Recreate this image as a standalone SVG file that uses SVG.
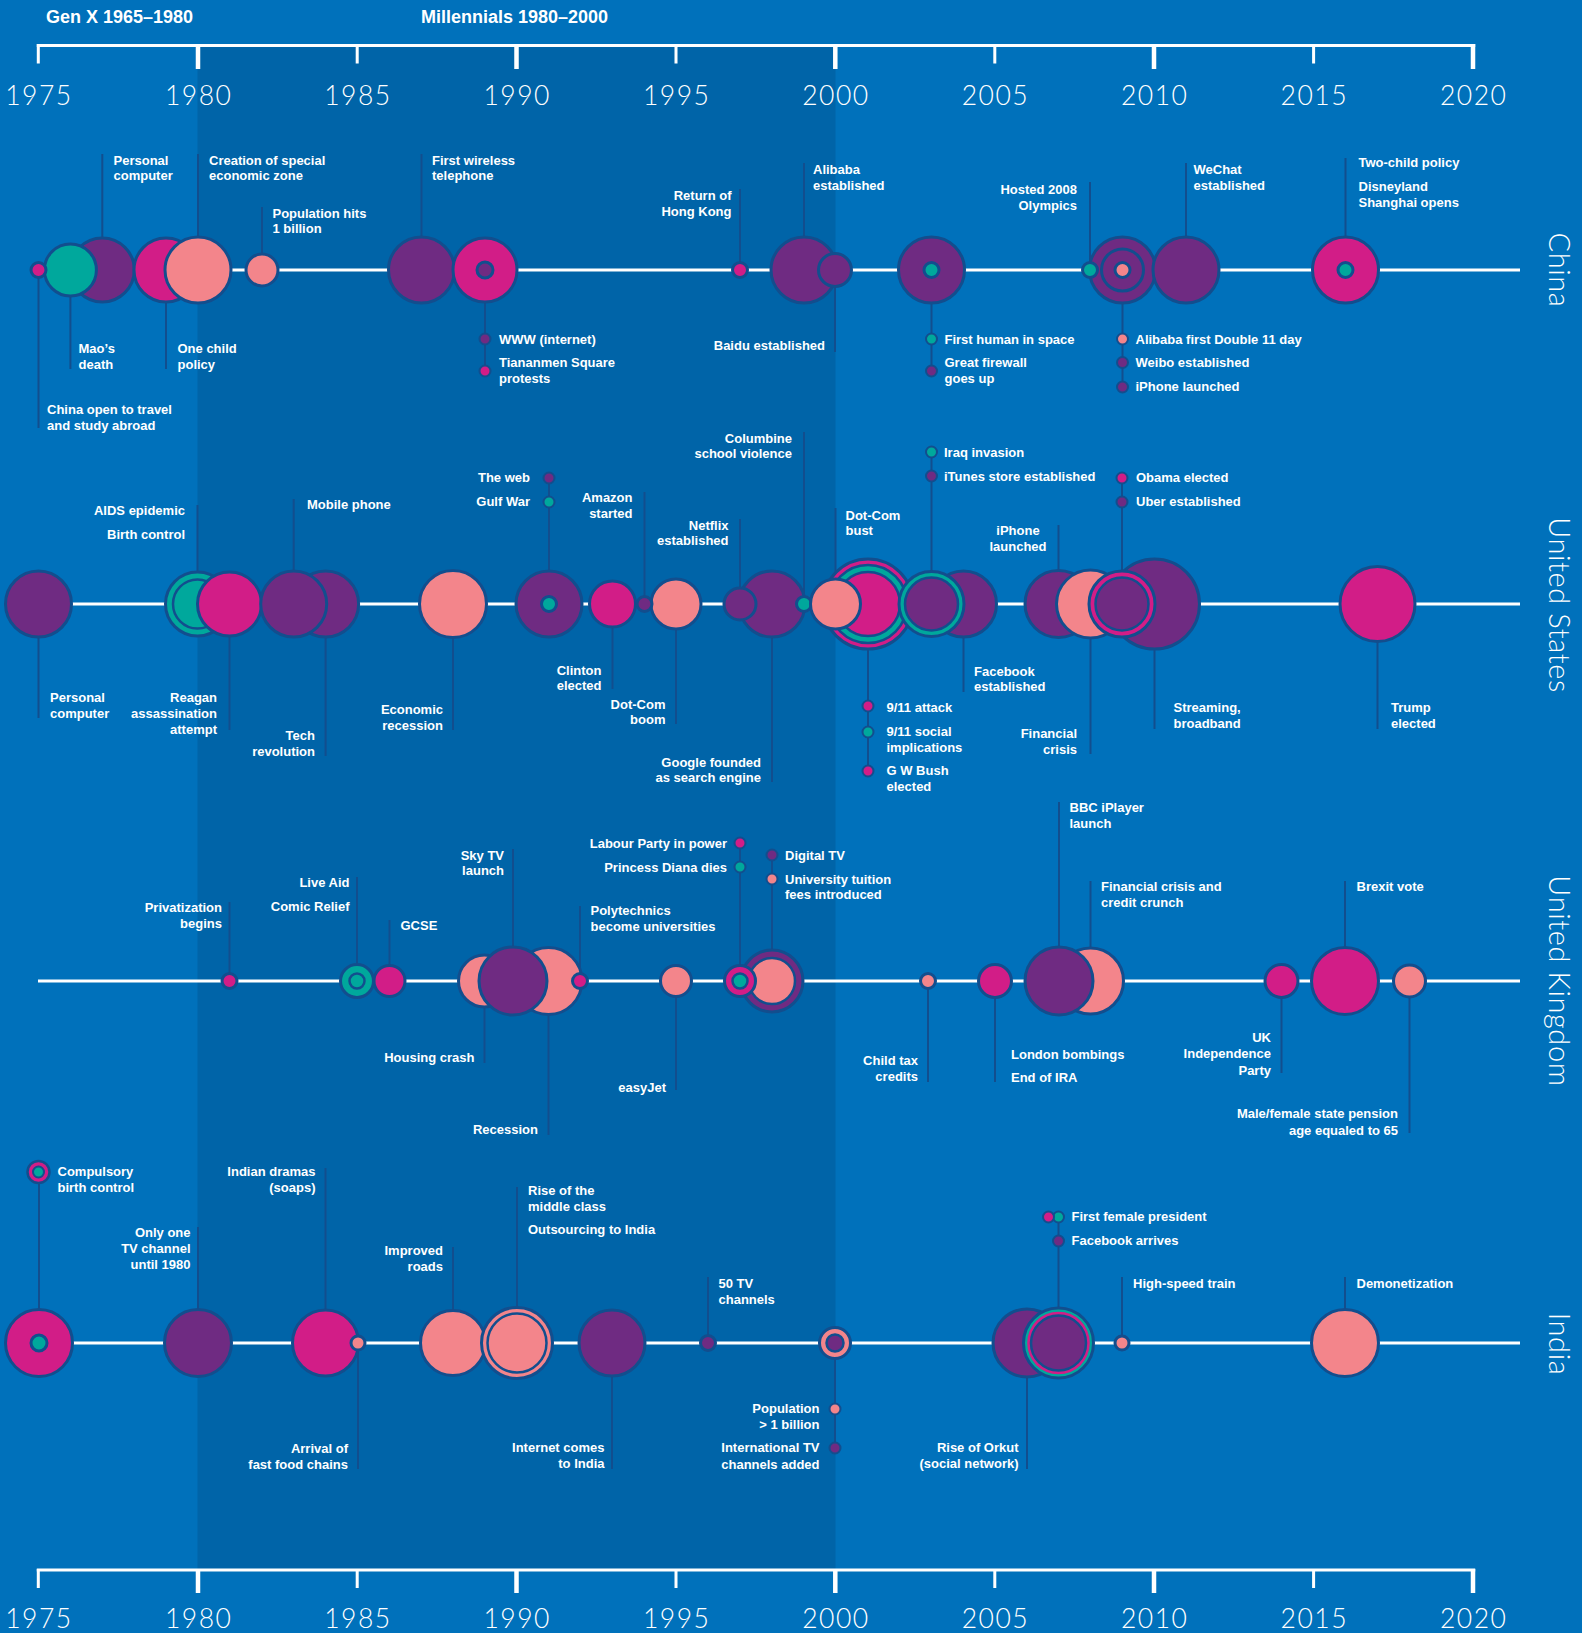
<svg xmlns="http://www.w3.org/2000/svg" width="1582" height="1633" viewBox="0 0 1582 1633">
<style>
.lb{font-family:"Liberation Sans",Arial,sans-serif;font-weight:bold;font-size:13px;fill:#fff}
.r{text-anchor:end}
.mid{text-anchor:middle}
.hd{font-family:"Liberation Sans",Arial,sans-serif;font-weight:bold;font-size:18px;fill:#fff}
.yr{font-family:Lato,"Liberation Sans",sans-serif;font-weight:300;font-size:26.5px;fill:#fff;text-anchor:middle;letter-spacing:1.5px}
.ct{font-family:Lato,"Liberation Sans",sans-serif;font-weight:300;font-size:29px;fill:#fff;text-anchor:middle;letter-spacing:0.6px}
.ax{stroke:#fff;fill:none}
.row{stroke:#fff;stroke-width:3}
.ld{stroke:#124E8E;stroke-width:2;fill:none}
.c{stroke:#124E8E;stroke-width:3}
.d{stroke:#124E8E;stroke-width:2}
.e{stroke:#124E8E;stroke-width:2.5}
.P{fill:#6F2B82}
.M{fill:#D21D87}
.T{fill:#00A89C}
.S{fill:#F3858B}
</style>
<rect width="1582" height="1633" fill="#0071BB"/>
<rect x="197.5" y="45" width="638" height="1525" fill="#0064A8"/>
<g id="headings">
<text class="hd" x="46" y="23">Gen X 1965–1980</text>
<text class="hd" x="421" y="23">Millennials 1980–2000</text>
</g>
<g id="axis-top">
<path class="ax" stroke-width="3" d="M36.8 45.5H1475.2"/>
<path class="ax" stroke-width="4.5" d="M198 44V69M516.5 44V69M835.3 44V69M1154 44V69M1473 44V69"/>
<path class="ax" stroke-width="3" d="M38.3 44V63.5M357.2 44V63.5M676 44V63.5M994.8 44V63.5M1313.6 44V63.5"/>
<text class="yr" x="39" y="105">1975</text><text class="yr" x="198.7" y="105">1980</text><text class="yr" x="357.9" y="105">1985</text><text class="yr" x="517.2" y="105">1990</text><text class="yr" x="676.7" y="105">1995</text><text class="yr" x="836" y="105">2000</text><text class="yr" x="995.5" y="105">2005</text><text class="yr" x="1154.7" y="105">2010</text><text class="yr" x="1314.3" y="105">2015</text><text class="yr" x="1473.7" y="105">2020</text>
</g>
<g id="axis-bottom">
<path class="ax" stroke-width="3" d="M36.8 1570H1475.2"/>
<path class="ax" stroke-width="4.5" d="M198 1569V1593M516.5 1569V1593M835.3 1569V1593M1154 1569V1593M1473 1569V1593"/>
<path class="ax" stroke-width="3" d="M38.3 1569V1588M357.2 1569V1588M676 1569V1588M994.8 1569V1588M1313.6 1569V1588"/>
<text class="yr" x="39" y="1628">1975</text><text class="yr" x="198.7" y="1628">1980</text><text class="yr" x="357.9" y="1628">1985</text><text class="yr" x="517.2" y="1628">1990</text><text class="yr" x="676.7" y="1628">1995</text><text class="yr" x="836" y="1628">2000</text><text class="yr" x="995.5" y="1628">2005</text><text class="yr" x="1154.7" y="1628">2010</text><text class="yr" x="1314.3" y="1628">2015</text><text class="yr" x="1473.7" y="1628">2020</text>
</g>
<g id="rows">
<path class="row" d="M38 270H1520M38 604H1520M38 981H1520M38 1343H1520"/>
<text class="ct" transform="translate(1549,270) rotate(90)">China</text>
<text class="ct" transform="translate(1549,605) rotate(90)">United States</text>
<text class="ct" transform="translate(1549,981) rotate(90)">United Kingdom</text>
<text class="ct" transform="translate(1549,1344) rotate(90)">India</text>
</g>
<g id="connectors">
<path class="ld" d="M38.5 270V428M70.4 270V369M102.3 154V270M166 270V369M198 154V270M262 207V270M421.5 154V270M485 270V371M740 189V270M804 163V270M835 270V352M931.5 270V371M1090 182V270M1122.5 270V387M1186 163V270M1345.5 158V270"/>
<path class="ld" d="M38.5 604V718M197.5 505V604M229.5 604V730M293.7 499V604M325.6 604V756M453 604V730M549 478V604M612.5 604V689M644.5 492V604M676 604V724M740 519V604M772 604V782M804 432V604M835.5 508V604M868 604V771M931.5 452V604M963.5 604V692M1058.5 525V604M1090.5 604V754M1122 478V604M1154.5 604V729M1377.5 604V729"/>
<path class="ld" d="M229.5 902V981M357 877V981M389.5 920V981M484.5 981V1063M513 849V981M548.5 981V1135M580 906V981M676 981V1090M740 843V981M772 855V981M928 981V1082M995 981V1082M1059 802V981M1090.5 881V981M1281.5 981V1073M1345 881V981M1409.5 981V1133"/>
<path class="ld" d="M39 1172V1343M198 1227V1343M325.5 1168V1343M358 1343V1469M453 1247V1343M517 1187V1343M612 1343V1469M708 1277V1343M835 1343V1448M1027 1343V1469M1058.5 1217V1343M1122 1277V1343M1345 1277V1343"/>
</g>
<g id="china">
<g id="cn1977"><circle class="c P" cx="102.3" cy="270" r="32"/><text class="lb" x="113.5" y="164.5">Personal<tspan x="113.5" y="180">computer</tspan></text></g>
<g id="cn1976"><circle class="c T" cx="70.4" cy="270" r="26"/><text class="lb" x="78.5" y="353">Mao’s<tspan x="78.5" y="368.5">death</tspan></text></g>
<g id="cn1975"><circle class="c M" cx="38.5" cy="270" r="7.5"/><text class="lb" x="47" y="414">China open to travel<tspan x="47" y="429.5">and study abroad</tspan></text></g>
<g id="cn1979"><circle class="c M" cx="166" cy="270" r="32"/><text class="lb" x="177.5" y="353">One child<tspan x="177.5" y="368.5">policy</tspan></text></g>
<g id="cn1980"><circle class="c S" cx="198" cy="270" r="33"/><text class="lb" x="209" y="164.5">Creation of special<tspan x="209" y="180">economic zone</tspan></text></g>
<g id="cn1982"><circle class="c S" cx="262" cy="270" r="16"/><text class="lb" x="272.5" y="217.5">Population hits<tspan x="272.5" y="233">1 billion</tspan></text></g>
<g id="cn1987"><circle class="c P" cx="421.5" cy="270" r="33"/><text class="lb" x="432" y="164.5">First wireless<tspan x="432" y="180">telephone</tspan></text></g>
<g id="cn1989"><circle class="c M" cx="485" cy="270" r="32"/><circle class="c P" cx="485" cy="270" r="8"/><circle class="d P" cx="485" cy="339" r="5.5"/><circle class="d M" cx="485" cy="371" r="5.5"/><text class="lb" x="499" y="343.5">WWW (internet)<tspan x="499" y="367">Tiananmen Square</tspan><tspan x="499" y="382.5">protests</tspan></text></g>
<g id="cn1997"><circle class="c M" cx="740" cy="270" r="7.5"/><text class="lb r" x="731.5" y="200">Return of<tspan x="731.5" y="216">Hong Kong</tspan></text></g>
<g id="cn1999"><circle class="c P" cx="804" cy="270" r="33"/><text class="lb" x="813" y="174">Alibaba<tspan x="813" y="190">established</tspan></text></g>
<g id="cn2000"><circle class="c P" cx="835" cy="270" r="16.5"/><text class="lb r" x="825" y="349.5">Baidu established</text></g>
<g id="cn2003"><circle class="c P" cx="931.5" cy="270" r="33"/><circle class="c T" cx="931.5" cy="270" r="7.5"/><circle class="d T" cx="931.5" cy="339" r="5.5"/><circle class="d P" cx="931.5" cy="371" r="5.5"/><text class="lb" x="944.5" y="343.5">First human in space<tspan x="944.5" y="367">Great firewall</tspan><tspan x="944.5" y="382.5">goes up</tspan></text></g>
<g id="cn2009"><circle class="c P" cx="1122.5" cy="270" r="33"/><circle class="c P" cx="1122.5" cy="270" r="21"/><circle class="c S" cx="1122.5" cy="270" r="7.5"/><circle class="d S" cx="1122.5" cy="339" r="5.5"/><circle class="d P" cx="1122.5" cy="362.5" r="5.5"/><circle class="d P" cx="1122.5" cy="387" r="5.5"/><text class="lb" x="1135.5" y="343.5">Alibaba first Double 11 day<tspan x="1135.5" y="367">Weibo established</tspan><tspan x="1135.5" y="391">iPhone launched</tspan></text></g>
<g id="cn2008"><circle class="c T" cx="1090" cy="270" r="7.5"/><text class="lb r" x="1077" y="194">Hosted 2008<tspan x="1077" y="210">Olympics</tspan></text></g>
<g id="cn2011"><circle class="c P" cx="1186" cy="270" r="33"/><text class="lb" x="1193.5" y="174">WeChat<tspan x="1193.5" y="190">established</tspan></text></g>
<g id="cn2016"><circle class="c M" cx="1345.5" cy="270" r="33"/><circle class="c T" cx="1345.5" cy="270" r="7.5"/><text class="lb" x="1358.5" y="167">Two-child policy<tspan x="1358.5" y="191">Disneyland</tspan><tspan x="1358.5" y="207">Shanghai opens</tspan></text></g>
</g>
<g id="us">
<g id="us1975"><circle class="c P" cx="38.5" cy="604" r="33"/><text class="lb" x="50" y="702">Personal<tspan x="50" y="718">computer</tspan></text></g>
<g id="us1980"><circle class="c T" cx="197.5" cy="604" r="32"/><circle class="e T" cx="197.5" cy="604" r="24.5"/><text class="lb r" x="185" y="515">AIDS epidemic<tspan x="185" y="539">Birth control</tspan></text></g>
<g id="us1981"><circle class="c M" cx="229.5" cy="604" r="32"/><text class="lb r" x="217" y="702">Reagan<tspan x="217" y="718">assassination</tspan><tspan x="217" y="734">attempt</tspan></text></g>
<g id="us1984"><circle class="c P" cx="325.6" cy="604" r="33"/><text class="lb r" x="315" y="740">Tech<tspan x="315" y="756">revolution</tspan></text></g>
<g id="us1983"><circle class="c P" cx="293.7" cy="604" r="33"/><text class="lb" x="307" y="509">Mobile phone</text></g>
<g id="us1988"><circle class="c S" cx="453" cy="604" r="33.5"/><text class="lb r" x="443" y="714">Economic<tspan x="443" y="730">recession</tspan></text></g>
<g id="us1991"><circle class="c P" cx="549" cy="604" r="33"/><circle class="c T" cx="549" cy="604" r="7.5"/><circle class="d P" cx="549" cy="478" r="5.5"/><circle class="d T" cx="549" cy="502" r="5.5"/><text class="lb r" x="530" y="482">The web<tspan x="530" y="506">Gulf War</tspan></text></g>
<g id="us1993"><circle class="c M" cx="612.5" cy="604" r="23"/><text class="lb r" x="601.5" y="674.5">Clinton<tspan x="601.5" y="690">elected</tspan></text></g>
<g id="us1995"><circle class="c S" cx="676" cy="604" r="25"/><text class="lb r" x="665.5" y="708.5">Dot-Com<tspan x="665.5" y="724">boom</tspan></text></g>
<g id="us1994"><circle class="c P" cx="644.5" cy="604" r="7.5"/><text class="lb r" x="632.5" y="502">Amazon<tspan x="632.5" y="518">started</tspan></text></g>
<g id="us1998"><circle class="c P" cx="772" cy="604" r="33"/><text class="lb r" x="761" y="767">Google founded<tspan x="761" y="782">as search engine</tspan></text></g>
<g id="us1997"><circle class="c P" cx="740" cy="604" r="16"/><text class="lb r" x="728.5" y="529.5">Netflix<tspan x="728.5" y="545">established</tspan></text></g>
<g id="us1999"><circle class="c T" cx="804" cy="604" r="7.5"/><text class="lb r" x="792" y="443">Columbine<tspan x="792" y="458">school violence</tspan></text></g>
<g id="us2001"><circle class="c M" cx="868" cy="604" r="45"/><circle class="e T" cx="868" cy="604" r="39"/><circle class="e M" cx="868" cy="604" r="32"/><circle class="d M" cx="868" cy="706" r="5.5"/><circle class="d T" cx="868" cy="732" r="5.5"/><circle class="d M" cx="868" cy="771" r="5.5"/><text class="lb" x="886.5" y="711.5">9/11 attack<tspan x="886.5" y="736">9/11 social</tspan><tspan x="886.5" y="752">implications</tspan><tspan x="886.5" y="775">G W Bush</tspan><tspan x="886.5" y="791">elected</tspan></text></g>
<g id="us2000"><circle class="c S" cx="835.5" cy="604" r="25"/><text class="lb" x="845.5" y="519.5">Dot-Com<tspan x="845.5" y="535">bust</tspan></text></g>
<g id="us2004"><circle class="c P" cx="963.5" cy="604" r="33"/><text class="lb" x="974" y="676">Facebook<tspan x="974" y="691">established</tspan></text></g>
<g id="us2003"><circle class="c T" cx="931.5" cy="604" r="32.5"/><circle class="e P" cx="931.5" cy="604" r="26.5"/><circle class="d T" cx="931.5" cy="452" r="5.5"/><circle class="d P" cx="931.5" cy="476" r="5.5"/><text class="lb" x="944" y="456.5">Iraq invasion<tspan x="944" y="480.5">iTunes store established</tspan></text></g>
<g id="us2010"><circle class="c P" cx="1154.5" cy="604" r="45"/><text class="lb" x="1173.5" y="712">Streaming,<tspan x="1173.5" y="728">broadband</tspan></text></g>
<g id="us2007"><circle class="c P" cx="1058.5" cy="604" r="33.5"/><text class="lb mid" x="1018" y="535">iPhone<tspan x="1018" y="551">launched</tspan></text></g>
<g id="us2008"><circle class="c S" cx="1090.5" cy="604" r="34"/><text class="lb r" x="1077" y="738">Financial<tspan x="1077" y="754">crisis</tspan></text></g>
<g id="us2009"><circle class="c M" cx="1122" cy="604" r="33"/><circle class="e P" cx="1122" cy="604" r="26.5"/><circle class="d M" cx="1122" cy="478" r="5.5"/><circle class="d P" cx="1122" cy="502" r="5.5"/><text class="lb" x="1136" y="482">Obama elected<tspan x="1136" y="506">Uber established</tspan></text></g>
<g id="us2017"><circle class="c M" cx="1377.5" cy="604" r="37.5"/><text class="lb" x="1391" y="712">Trump<tspan x="1391" y="728">elected</tspan></text></g>
</g>
<g id="uk">
<g id="uk1981"><circle class="c M" cx="229.5" cy="981" r="7.5"/><text class="lb r" x="222" y="912">Privatization<tspan x="222" y="928">begins</tspan></text></g>
<g id="uk1986"><circle class="c M" cx="389.5" cy="981" r="15.5"/><text class="lb" x="400.5" y="929.5">GCSE</text></g>
<g id="uk1985"><circle class="c T" cx="357" cy="981" r="16.5"/><circle class="e T" cx="357" cy="981" r="7.5"/><text class="lb r" x="349.5" y="887">Live Aid<tspan x="349.5" y="911">Comic Relief</tspan></text></g>
<g id="uk1991"><circle class="c S" cx="548.5" cy="981" r="33.5"/><text class="lb r" x="538" y="1134">Recession</text></g>
<g id="uk1989"><circle class="c S" cx="484.5" cy="981" r="26"/><text class="lb r" x="474.5" y="1062">Housing crash</text></g>
<g id="uk1990"><circle class="c P" cx="513" cy="981" r="34"/><text class="lb r" x="504" y="860">Sky TV<tspan x="504" y="875">launch</tspan></text></g>
<g id="uk1992"><circle class="c M" cx="580" cy="981" r="7.5"/><text class="lb" x="590.5" y="915">Polytechnics<tspan x="590.5" y="931">become universities</tspan></text></g>
<g id="uk1995"><circle class="c S" cx="676" cy="981" r="15.5"/><text class="lb r" x="666" y="1092">easyJet</text></g>
<g id="uk1998"><circle class="c P" cx="772" cy="981" r="31"/><circle class="e S" cx="772" cy="981" r="23"/><circle class="d P" cx="772" cy="855" r="5.5"/><circle class="d S" cx="772" cy="879" r="5.5"/><text class="lb" x="785" y="859.5">Digital TV<tspan x="785" y="883.5">University tuition</tspan><tspan x="785" y="899">fees introduced</tspan></text></g>
<g id="uk1997"><circle class="c M" cx="740" cy="981" r="15.5"/><circle class="e T" cx="740" cy="981" r="7.5"/><circle class="d M" cx="740" cy="843" r="5.5"/><circle class="d T" cx="740" cy="867" r="5.5"/><text class="lb r" x="727" y="847.5">Labour Party in power<tspan x="727" y="871.5">Princess Diana dies</tspan></text></g>
<g id="uk2003"><circle class="c S" cx="928" cy="981" r="7.5"/><text class="lb r" x="918" y="1065">Child tax<tspan x="918" y="1081">credits</tspan></text></g>
<g id="uk2005"><circle class="c M" cx="995" cy="981" r="16.5"/><text class="lb" x="1011" y="1058.5">London bombings<tspan x="1011" y="1082">End of IRA</tspan></text></g>
<g id="uk2008"><circle class="c S" cx="1090.5" cy="981" r="33"/><text class="lb" x="1101" y="891">Financial crisis and<tspan x="1101" y="907">credit crunch</tspan></text></g>
<g id="uk2007"><circle class="c P" cx="1059" cy="981" r="34"/><text class="lb" x="1069.5" y="812">BBC iPlayer<tspan x="1069.5" y="828">launch</tspan></text></g>
<g id="uk2014"><circle class="c M" cx="1281.5" cy="981" r="16.5"/><text class="lb r" x="1271" y="1042">UK<tspan x="1271" y="1058">Independence</tspan><tspan x="1271" y="1074.5">Party</tspan></text></g>
<g id="uk2016"><circle class="c M" cx="1345" cy="981" r="33.5"/><text class="lb" x="1356.5" y="891">Brexit vote</text></g>
<g id="uk2018"><circle class="c S" cx="1409.5" cy="981" r="16"/><text class="lb r" x="1398" y="1118">Male/female state pension<tspan x="1398" y="1134.5">age equaled to 65</tspan></text></g>
</g>
<g id="india">
<g id="in1975"><circle class="c M" cx="39" cy="1343" r="33.5"/><circle class="c T" cx="39" cy="1343" r="8"/><circle class="e M" cx="38.5" cy="1172" r="11"/><circle class="d T" cx="38.5" cy="1172" r="5.5"/><text class="lb" x="57.5" y="1176">Compulsory<tspan x="57.5" y="1192">birth control</tspan></text></g>
<g id="in1980"><circle class="c P" cx="198" cy="1343" r="33.5"/><text class="lb r" x="190.5" y="1237">Only one<tspan x="190.5" y="1253">TV channel</tspan><tspan x="190.5" y="1269">until 1980</tspan></text></g>
<g id="in1984"><circle class="c M" cx="325.5" cy="1343" r="33"/><text class="lb r" x="315.5" y="1176">Indian dramas<tspan x="315.5" y="1192">(soaps)</tspan></text></g>
<g id="in1985"><circle class="c S" cx="358" cy="1343" r="7"/><text class="lb r" x="348" y="1453">Arrival of<tspan x="348" y="1469">fast food chains</tspan></text></g>
<g id="in1988"><circle class="c S" cx="453" cy="1343" r="32.5"/><text class="lb r" x="443" y="1255">Improved<tspan x="443" y="1271">roads</tspan></text></g>
<g id="in1990"><circle class="c S" cx="517" cy="1343" r="35.5"/><circle class="e S" cx="517" cy="1343" r="29.5"/><text class="lb" x="528" y="1195">Rise of the<tspan x="528" y="1211">middle class</tspan><tspan x="528" y="1234">Outsourcing to India</tspan></text></g>
<g id="in1993"><circle class="c P" cx="612" cy="1343" r="33"/><text class="lb r" x="604.5" y="1452">Internet comes<tspan x="604.5" y="1468">to India</tspan></text></g>
<g id="in1996"><circle class="c P" cx="708" cy="1343" r="7.5"/><text class="lb" x="718.5" y="1288">50 TV<tspan x="718.5" y="1303.5">channels</tspan></text></g>
<g id="in2000"><circle class="c S" cx="835" cy="1343" r="15.5"/><circle class="e P" cx="835" cy="1343" r="8.5"/><circle class="d S" cx="835" cy="1409" r="5.5"/><circle class="d P" cx="835" cy="1448" r="5.5"/><text class="lb r" x="819.5" y="1413">Population<tspan x="819.5" y="1429">&gt; 1 billion</tspan><tspan x="819.5" y="1452">International TV</tspan><tspan x="819.5" y="1468.5">channels added</tspan></text></g>
<g id="in2006"><circle class="c P" cx="1027" cy="1343" r="34"/><text class="lb r" x="1018.5" y="1452">Rise of Orkut<tspan x="1018.5" y="1468">(social network)</tspan></text></g>
<g id="in2007"><circle class="c T" cx="1058.5" cy="1343" r="35"/><circle class="M" cx="1058.5" cy="1343" r="31.3"/><circle class="e P" cx="1058.5" cy="1343" r="27.5"/><circle class="d T" cx="1058.5" cy="1217" r="5.5"/><circle class="d M" cx="1048.5" cy="1217" r="5.5"/><circle class="d P" cx="1058.5" cy="1241" r="5.5"/><text class="lb" x="1071.5" y="1221">First female president<tspan x="1071.5" y="1245">Facebook arrives</tspan></text></g>
<g id="in2009"><circle class="c S" cx="1122" cy="1343" r="7"/><text class="lb" x="1133" y="1288">High-speed train</text></g>
<g id="in2016"><circle class="c S" cx="1345" cy="1343" r="33.5"/><text class="lb" x="1356.5" y="1288">Demonetization</text></g>
</g>
</svg>
